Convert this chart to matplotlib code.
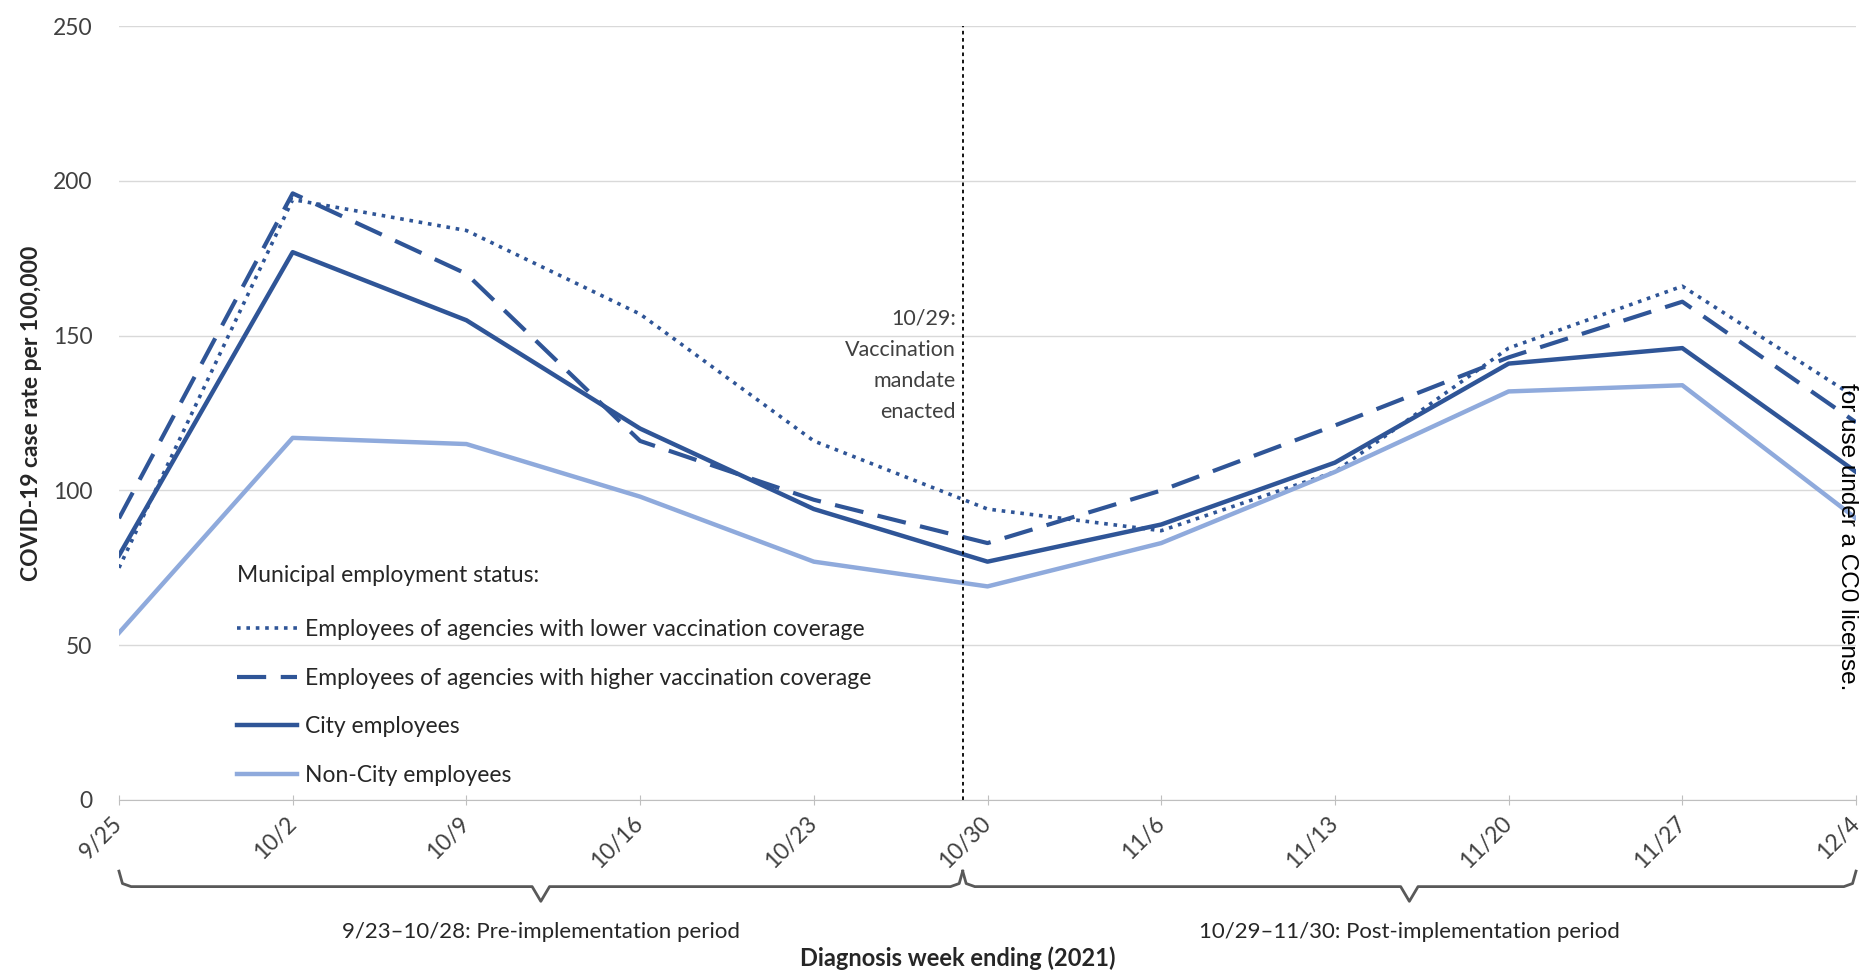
import numpy as np
import matplotlib.pyplot as plt
from matplotlib.transforms import blended_transform_factory

plt.rcParams['font.family'] = ['Lato', 'DejaVu Sans']

semanas = ['9/25', '10/2', '10/9', '10/16', '10/23', '10/30',
           '11/6', '11/13', '11/20', '11/27', '12/4']

baja_cobertura = [75, 194, 184, 157, 116, 94, 87, 106, 146, 166, 130]
alta_cobertura = [91, 196, 170, 116, 97, 83, 100, 121, 143, 161, 122]
empleados_ciudad = [79, 177, 155, 120, 94, 77, 89, 109, 141, 146, 106]
no_ciudad = [54, 117, 115, 98, 77, 69, 83, 106, 132, 134, 91]

nombres = ['Employees of agencies with lower vaccination coverage',
           'Employees of agencies with higher vaccination coverage',
           'City employees',
           'Non-City employees']

dia_mandato = 5 - 1/7   # 10/29, un dia antes de 10/30
periodos = [(0, dia_mandato, '9/23\u201310/28: Pre-implementation period'),
            (dia_mandato, 10, '10/29\u201311/30: Post-implementation period')]

azul = '#2F5597'
azul_claro = '#8FAADC'
gris_texto = '#404040'

x = np.arange(len(semanas))

fig = plt.figure(figsize=(18.59, 9.72), dpi=100)
ax = fig.add_axes([0.064, 0.177, 0.9344, 0.796])

ax.plot(x, baja_cobertura, color=azul, lw=2.6, linestyle=(0, (1, 1.6)), label=nombres[0])
ax.plot(x, alta_cobertura, color=azul, lw=3, linestyle=(0, (7, 3.5)), label=nombres[1])
ax.plot(x, empleados_ciudad, color=azul, lw=3.2, label=nombres[2])
ax.plot(x, no_ciudad, color=azul_claro, lw=3.2, label=nombres[3])

ax.set_xlim(0, 10)
ax.set_ylim(0, 250)
ax.set_yticks([0, 50, 100, 150, 200, 250])
ax.set_xticks(x)
ax.set_xticklabels(semanas, rotation=45, ha='right', va='center', rotation_mode='anchor')
ax.grid(axis='y', color='#D9D9D9', lw=1)
ax.set_axisbelow(True)
for s in ['left', 'right', 'top']:
    ax.spines[s].set_visible(False)
ax.spines['bottom'].set_color('#BFBFBF')
ax.tick_params(axis='y', length=0, pad=19, labelsize=16.5, labelcolor=gris_texto)
ax.tick_params(axis='x', direction='inout', length=7, color='#BFBFBF', pad=11,
               labelsize=16.5, labelcolor=gris_texto)

ax.set_ylabel('COVID-19 case rate per 100,000', fontsize=16.5, fontweight='bold',
              color='#262626', labelpad=8)

# linea del mandato
ax.axvline(dia_mandato, color='black', lw=1.3, linestyle=(0, (2, 2)), ymax=1)
ax.text(dia_mandato - 0.04, 140.5, '10/29:\nVaccination\nmandate\nenacted', ha='right',
        va='center', fontsize=15.5, color=gris_texto, linespacing=1.7)

# llaves de los periodos
tr = blended_transform_factory(ax.transData, ax.transAxes)
for ini, fin, texto in periodos:
    mid = (ini + fin) / 2
    bx = [ini, ini + 0.02, ini + 0.07, mid - 0.05, mid, mid + 0.05, fin - 0.07, fin - 0.02, fin]
    by = [-0.092, -0.108, -0.112, -0.112, -0.131, -0.112, -0.112, -0.108, -0.092]
    ax.plot(bx, by, color='#595959', lw=2, transform=tr, clip_on=False)
    ax.text(mid, -0.171, texto, transform=tr, ha='center', va='center', fontsize=16,
            color='#262626')

fig.text(0.515, 0.014, 'Diagnosis week ending (2021)', ha='center', va='center',
         fontsize=17, fontweight='bold', color='#262626')

leg = ax.legend(loc='upper left', bbox_to_anchor=(0.1275, 0.419), bbox_transform=fig.transFigure,
                frameon=False, title='Municipal employment status:', alignment='left',
                fontsize=16.5, title_fontsize=16.5, labelspacing=1.2, handlelength=2.6,
                handletextpad=0.35, borderpad=0, borderaxespad=0)
for t in leg.get_texts():
    t.set_color('#262626')
leg.get_title().set_color('#262626')
leg._legend_box.sep = 24

fig.text(0.9935, 0.4475, 'for use under a CC0 license.', rotation=-90, ha='center',
         va='center', fontsize=17.5, family='Liberation Sans', color='black')

plt.savefig('out.png', dpi=100)
